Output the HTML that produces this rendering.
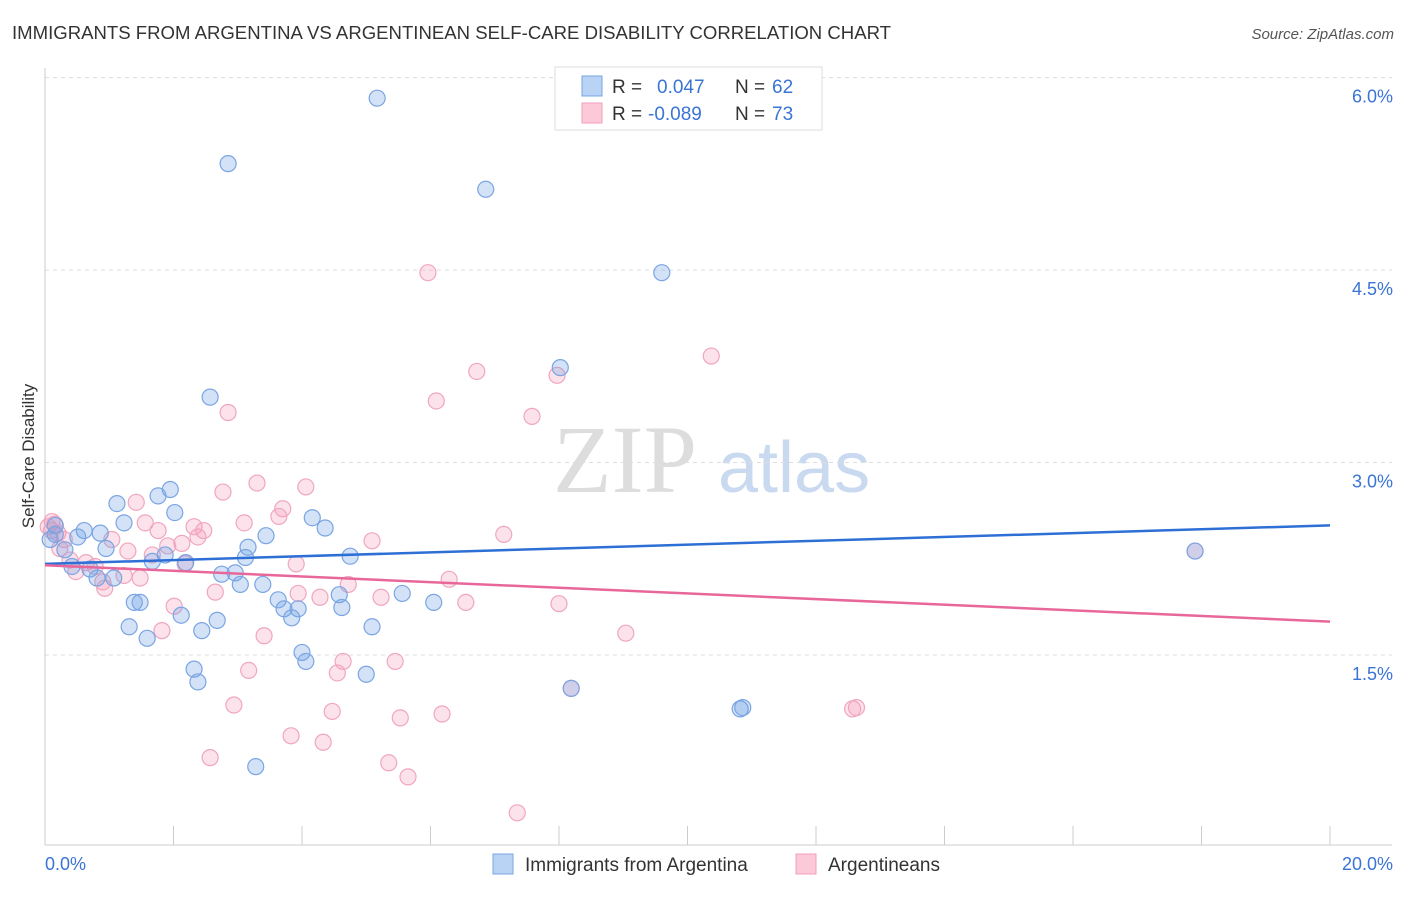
<!DOCTYPE html>
<html><head><meta charset="utf-8"><style>
body{margin:0;background:#fff;font-family:"Liberation Sans",sans-serif;}
</style></head><body>
<svg id="chart" width="1406" height="892" xmlns="http://www.w3.org/2000/svg">
<text x="12" y="39" font-size="18" fill="#333" textLength="879" lengthAdjust="spacingAndGlyphs">IMMIGRANTS FROM ARGENTINA VS ARGENTINEAN SELF-CARE DISABILITY CORRELATION CHART</text>
<text x="1394" y="39" font-size="15" fill="#555" font-style="italic" text-anchor="end">Source: ZipAtlas.com</text>
<g>
<text x="553" y="492" font-size="96" fill="#ddd" font-family="Liberation Serif,serif">ZIP</text>
<text x="718" y="492" font-size="72" fill="#c8d9f0">atlas</text>
</g>
<g id="grid"></g>
<g id="axes"></g>
<g id="marks"></g>
<text transform="translate(34,456) rotate(-90)" font-size="17" fill="#333" text-anchor="middle">Self-Care Disability</text>
<g>
<rect x="555" y="67" width="267" height="63" fill="#fff" stroke="#ddd"/>
<rect x="582" y="76" width="20" height="20" fill="#b9d3f5" stroke="#7aa5e3"/>
<rect x="582" y="103" width="20" height="20" fill="#fbc9d8" stroke="#f0a0b8"/>
<text x="612" y="93" font-size="19" fill="#333">R =</text>
<text x="657" y="93" font-size="19" fill="#3a74d4">0.047</text>
<text x="735" y="93" font-size="19" fill="#333">N =</text>
<text x="772" y="93" font-size="19" fill="#3a74d4">62</text>
<text x="612" y="120" font-size="19" fill="#333">R =</text>
<text x="648" y="120" font-size="19" fill="#3a74d4">-0.089</text>
<text x="735" y="120" font-size="19" fill="#333">N =</text>
<text x="772" y="120" font-size="19" fill="#3a74d4">73</text>
</g>
<g>
<rect x="493" y="854" width="20" height="20" fill="#b9d3f5" stroke="#7aa5e3"/>
<text x="525" y="871" font-size="19" fill="#333">Immigrants from Argentina</text>
<rect x="796" y="854" width="20" height="20" fill="#fbc9d8" stroke="#f0a0b8"/>
<text x="828" y="871" font-size="19" fill="#333">Argentineans</text>
</g>
</svg>
<script>
const yTicks=[1.5,3.0,4.5,6.0];
const yTickLabels=["1.5%","3.0%","4.5%","6.0%"];
const xTickLabels=["0.0%","20.0%"];
const blueX=[5.17,2.85,6.86,9.60,8.02,2.57,1.95,1.76,1.12,2.02,1.23,0.16,0.61,0.86,4.36,4.16,3.44,0.51,0.08,3.16,0.95,0.31,1.87,4.75,3.12,1.67,2.19,0.42,0.70,2.75,2.96,0.81,1.07,3.04,3.39,5.56,4.58,3.63,1.39,1.48,6.05,3.72,3.94,4.62,2.12,3.84,2.68,1.31,5.09,2.44,1.59,4.0,4.06,2.32,5.0,2.38,8.19,10.82,10.86,3.28,17.9,0.16];
const blueY=[5.84,5.33,5.13,4.48,3.74,3.51,2.79,2.74,2.68,2.61,2.53,2.51,2.47,2.45,2.49,2.57,2.43,2.42,2.40,2.34,2.33,2.32,2.28,2.27,2.26,2.23,2.22,2.19,2.17,2.13,2.14,2.10,2.10,2.05,2.05,1.98,1.97,1.93,1.91,1.91,1.91,1.86,1.86,1.87,1.81,1.79,1.77,1.72,1.72,1.69,1.63,1.52,1.45,1.39,1.35,1.29,1.24,1.08,1.09,0.63,2.31,2.44];
const pinkX=[5.96,10.37,6.72,7.97,6.09,7.58,2.85,3.30,4.06,2.77,1.42,3.70,3.64,1.56,3.10,2.32,2.47,1.76,7.14,1.04,5.09,2.13,2.38,1.91,1.29,1.67,0.39,0.64,0.78,2.18,3.91,0.23,0.48,1.23,1.48,6.29,0.90,4.72,0.93,2.65,3.94,4.28,5.23,6.55,8.0,2.01,1.82,3.41,9.04,4.64,5.45,4.55,3.17,2.94,4.47,5.53,6.18,12.57,12.63,3.83,4.33,2.57,5.35,5.65,7.35,8.19,17.9,0.11,0.05,0.2,0.3,0.1,0.15];
const pinkY=[4.48,3.83,3.71,3.68,3.48,3.36,3.39,2.84,2.81,2.77,2.69,2.64,2.58,2.53,2.53,2.50,2.47,2.47,2.44,2.40,2.39,2.37,2.42,2.35,2.31,2.28,2.24,2.22,2.19,2.21,2.21,2.33,2.15,2.12,2.10,2.09,2.07,2.05,2.02,1.99,1.98,1.95,1.95,1.91,1.90,1.88,1.69,1.65,1.67,1.45,1.45,1.36,1.38,1.11,1.06,1.01,1.04,1.08,1.09,0.87,0.82,0.70,0.66,0.55,0.27,1.24,2.31,2.54,2.50,2.45,2.40,2.47,2.52];
const blueTrend=[2.21,2.51];
const pinkTrend=[2.20,1.76];
const NS="http://www.w3.org/2000/svg";
const X0=45,X1=1330,XMAX=20;
const sx=v=>X0+(v/XMAX)*(X1-X0);
const sy=v=>655-(v-1.5)*128.3;
function mk(t,a,parent){const e=document.createElementNS(NS,t);for(const k in a)e.setAttribute(k,a[k]);document.getElementById(parent).appendChild(e);return e;}
yTicks.forEach((t,i)=>{
 const l=mk('line',{x1:45,x2:1392,y1:sy(t),y2:sy(t),stroke:'#ddd','stroke-dasharray':'4,4'},'grid');
 
 
 const tx=mk('text',{x:1393,y:sy(t)+25,'font-size':18,fill:'#3a74d4','text-anchor':'end'},'grid');
 tx.textContent=yTickLabels[i];
 
 
});
let a=mk('line',{x1:45,x2:45,y1:68,y2:845,stroke:'#ccc'},'axes');


a=mk('line',{x1:45,x2:1392,y1:845,y2:845,stroke:'#ccc'},'axes');


for(let i=0;i<=10;i++){
 const x=sx(i*2);
 const t=mk('line',{x1:x,x2:x,y1:826,y2:845,stroke:'#ccc'},'axes');
 
 
}
let xl=mk('text',{x:45,y:870,'font-size':18,fill:'#3a74d4'},'axes');
xl.textContent=xTickLabels[0];


xl=mk('text',{x:1393,y:870,'font-size':18,fill:'#3a74d4','text-anchor':'end'},'axes');
xl.textContent=xTickLabels[1];


pinkX.forEach((v,i)=>{
 const c=mk('circle',{cx:sx(v),cy:sy(pinkY[i]),r:8,fill:'rgba(244,160,190,0.3)',stroke:'#f0a6be','stroke-width':1.2},'marks');
 
 
});
blueX.forEach((v,i)=>{
 const c=mk('circle',{cx:sx(v),cy:sy(blueY[i]),r:8,fill:'rgba(110,160,230,0.3)',stroke:'#7aa5e3','stroke-width':1.2},'marks');
 
 
});
let tl=mk('line',{x1:sx(0),x2:sx(XMAX),y1:sy(blueTrend[0]),y2:sy(blueTrend[1]),stroke:'#2e6fd6','stroke-width':2.5},'marks');


tl=mk('line',{x1:sx(0),x2:sx(XMAX),y1:sy(pinkTrend[0]),y2:sy(pinkTrend[1]),stroke:'#e8679a','stroke-width':2.5},'marks');


</script>
</body></html>
